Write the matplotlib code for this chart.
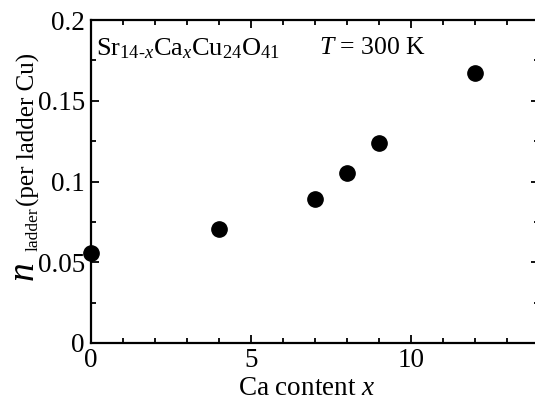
import matplotlib
matplotlib.use('Agg')
import matplotlib.pyplot as plt
from matplotlib.ticker import MultipleLocator

plt.rcParams['font.family'] = ['Liberation Serif']
plt.rcParams['mathtext.fontset'] = 'custom'
plt.rcParams['mathtext.rm'] = 'Liberation Serif'
plt.rcParams['mathtext.it'] = 'Liberation Serif:italic'

ca_content = [0, 4, 7, 8, 9, 12]
n_ladder = [0.0557, 0.0706, 0.0892, 0.105, 0.124, 0.167]
y_ticks = [0, 0.05, 0.1, 0.15, 0.2]
y_ticklabels = ['0', '0.05', '0.1', '0.15', '0.2']

fig = plt.figure(figsize=(5.35, 4.01), dpi=100)
ax = fig.add_axes([91/535, 58/401, 448/535, 323/401])

ax.plot(ca_content, n_ladder, 'o', color='black', markersize=11, clip_on=False, zorder=5)

ax.set_xlim(0, 14)
ax.set_ylim(0, 0.2)
ax.xaxis.set_major_locator(MultipleLocator(5))
ax.xaxis.set_minor_locator(MultipleLocator(1))
ax.yaxis.set_minor_locator(MultipleLocator(0.025))
ax.set_yticks(y_ticks)
ax.set_yticklabels(y_ticklabels)
ax.tick_params(which='both', direction='in', top=True, right=True, width=1.3)
ax.tick_params(which='major', length=6, labelsize=19.5)
ax.tick_params(axis='x', which='major', pad=3.5)
ax.tick_params(axis='y', which='major', pad=4.5)
ax.tick_params(which='minor', length=3.5)
for s in ax.spines.values():
    s.set_linewidth(1.6)

ax.set_xlabel(r'Ca content $x$', fontsize=19.5)
ax.xaxis.set_label_coords(0.482, -0.102)
ax.xaxis.label.set_va('top')

# y label built from pieces: big italic n, subscript, then normal text
fig.text(33/535, 1 - 280/401, 'n', fontsize=27, fontstyle='italic', rotation=90,
         rotation_mode='anchor', ha='left', va='baseline')
fig.text(38/535, 1 - 251/401, 'ladder', fontsize=12.5, rotation=90,
         rotation_mode='anchor', ha='left', va='baseline')
fig.text(35/535, 1 - 206/401, '(per ladder Cu)', fontsize=18, rotation=90,
         rotation_mode='anchor', ha='left', va='baseline')

ax.text(0.012, 0.912, r'Sr$_{14\text{-}x}$Ca$_x$Cu$_{24}$O$_{41}$', transform=ax.transAxes,
        fontsize=19, va='center', ha='left')
ax.text(0.510, 0.912, r'$T$ = 300 K', transform=ax.transAxes,
        fontsize=18.5, va='center', ha='left')

fig.savefig('out.png', dpi=100)
